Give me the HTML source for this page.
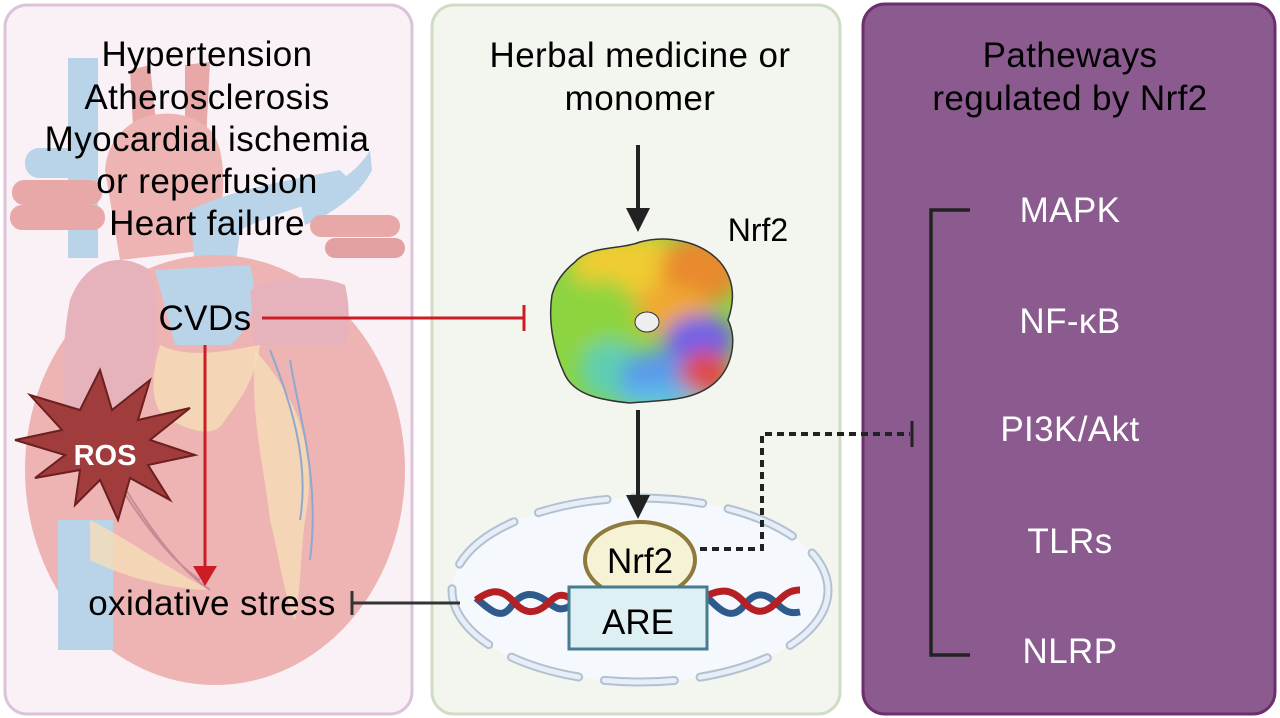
<!DOCTYPE html>
<html><head><meta charset="utf-8"><style>
html,body{margin:0;padding:0;background:#fff;}
svg{display:block;font-family:"Liberation Sans",sans-serif;}
</style></head><body>
<svg width="1280" height="718" viewBox="0 0 1280 718" xmlns="http://www.w3.org/2000/svg">
<defs>
<filter id="bl" x="-20%" y="-20%" width="140%" height="140%"><feGaussianBlur stdDeviation="10"/></filter>
<clipPath id="pc"><path d="M575,262 C590,245 620,250 640,242 C665,235 700,240 720,262 C735,280 735,300 728,320 C738,340 732,370 712,385 C690,402 660,400 630,403 C600,400 575,395 565,375 C553,350 548,320 552,295 C556,280 565,270 575,262 Z"/></clipPath>
</defs>
<!-- panels -->
<rect x="5" y="5" width="407" height="709" rx="22" fill="#f9f1f6" stroke="#dcc3d9" stroke-width="3"/>
<rect x="432" y="5" width="408" height="709" rx="22" fill="#f3f6ee" stroke="#cfdcc6" stroke-width="3"/>
<rect x="863" y="4" width="412" height="710" rx="22" fill="#8b5a8f" stroke="#6b2f6e" stroke-width="3"/>

<!-- heart -->
<g>
<rect x="68" y="58" width="30" height="200" fill="#b9d3e8"/>
<rect x="25" y="148" width="70" height="30" rx="14" fill="#b9d3e8"/>
<rect x="12" y="180" width="90" height="25" rx="12" fill="#e9a8a8"/>
<rect x="10" y="205" width="95" height="25" rx="12" fill="#e9a8a8"/>
<path d="M130,70 L150,65 L160,160 L135,165 Z" fill="#e9a8a8"/>
<path d="M185,65 L210,62 L205,160 L185,160 Z" fill="#e9a8a8"/>
<path d="M105,170 C110,110 180,100 210,130 C230,150 225,220 210,250 L120,260 Z" fill="#eeb3b3"/>
<path d="M300,200 C330,190 360,170 370,150 L372,170 C360,195 330,215 305,225 Z" fill="#b9d3e8"/>
<path d="M190,210 C230,190 290,180 340,170 L360,190 C320,200 270,215 240,230 L235,270 L195,270 Z" fill="#b9d3e8"/>
<rect x="310" y="215" width="90" height="22" rx="11" fill="#e9a8a8"/>
<rect x="325" y="238" width="80" height="20" rx="10" fill="#e2a0a0"/>
<ellipse cx="215" cy="470" rx="190" ry="215" fill="#eeb3b3"/>
<path d="M70,300 C60,350 60,420 75,470 C80,450 110,420 140,400 C160,370 160,300 150,270 C120,250 85,260 70,300 Z" fill="#e6b3bd"/>
<path d="M155,270 L250,265 C260,300 250,330 230,345 L175,345 Z" fill="#b9d3e8"/>
<path d="M250,290 C280,275 320,275 345,285 C350,305 350,330 345,345 L255,345 Z" fill="#e6b3bd"/>
<rect x="58" y="520" width="55" height="130" fill="#b9d3e8"/>
<path d="M160,345 C190,360 230,350 260,345 C255,380 240,400 225,420 C215,440 190,430 170,420 C150,410 150,380 160,345 Z" fill="#f5dfb8" opacity="0.8"/>
<path d="M255,350 C290,390 320,440 305,520 C300,560 300,600 295,620 C285,600 280,560 270,520 C265,470 250,420 255,350 Z" fill="#f5dfb8" opacity="0.8"/>
<path d="M90,520 C130,540 170,570 210,590 C180,590 130,580 90,560 Z" fill="#f5dfb8" opacity="0.8"/>
<path d="M270,350 C290,400 310,460 300,520 M290,360 C300,420 320,480 310,560" stroke="#8fa8cc" stroke-width="2" fill="none"/>
<path d="M110,470 C140,520 170,560 200,580 M120,480 C150,530 180,570 210,590" stroke="#c78b96" stroke-width="2" fill="none"/>
</g>
<!-- ROS star -->
<polygon points="100,370 112,410 150,380 138,420 190,408 150,440 195,455 148,465 170,500 130,478 118,520 100,480 75,505 80,470 35,478 65,455 15,440 62,430 30,395 80,410" fill="#a03c3c" stroke="#6b1f1f" stroke-width="2"/>
<text x="105" y="465" text-anchor="middle" font-size="29" font-weight="bold" fill="#fff">ROS</text>

<!-- left text -->
<g font-size="35" fill="#000" text-anchor="middle" letter-spacing="0.4">
<text x="207" y="66">Hypertension</text>
<text x="207" y="109">Atherosclerosis</text>
<text x="207" y="151">Myocardial ischemia</text>
<text x="207" y="193">or reperfusion</text>
<text x="207" y="235">Heart failure</text>
<text x="205" y="330">CVDs</text>
<text x="212" y="615">oxidative stress</text>
</g>
<!-- red arrows -->
<line x1="262" y1="318" x2="524" y2="318" stroke="#cc1c24" stroke-width="3"/>
<line x1="524" y1="305" x2="524" y2="331" stroke="#cc1c24" stroke-width="3"/>
<line x1="205" y1="345" x2="205" y2="568" stroke="#cc1c24" stroke-width="3"/>
<polygon points="193,566 217,566 205,586" fill="#cc1c24"/>

<!-- middle -->
<g font-size="35" fill="#000" text-anchor="middle" letter-spacing="0.4">
<text x="640" y="67">Herbal medicine or</text>
<text x="640" y="110">monomer</text>
</g>
<line x1="638" y1="145" x2="638" y2="212" stroke="#222" stroke-width="4"/>
<polygon points="626,208 650,208 638,232" fill="#222"/>
<text x="758" y="241" font-size="32" text-anchor="middle">Nrf2</text>
<!-- protein -->
<g clip-path="url(#pc)">
<rect x="540" y="230" width="200" height="180" fill="#8bd444"/>
<g filter="url(#bl)">
<ellipse cx="630" cy="265" rx="60" ry="30" fill="#f0cc30"/>
<ellipse cx="700" cy="270" rx="40" ry="35" fill="#e8892e"/>
<ellipse cx="670" cy="310" rx="40" ry="25" fill="#f0a830"/>
<ellipse cx="600" cy="320" rx="40" ry="40" fill="#8ed43e"/>
<ellipse cx="610" cy="370" rx="30" ry="30" fill="#5ecfb0"/>
<ellipse cx="660" cy="375" rx="40" ry="25" fill="#5a9ae8"/>
<ellipse cx="700" cy="340" rx="35" ry="25" fill="#7060e8"/>
<ellipse cx="705" cy="375" rx="25" ry="25" fill="#e04848"/>
<ellipse cx="660" cy="398" rx="45" ry="12" fill="#5ec0ec"/>
</g>
</g>
<path d="M575,262 C590,245 620,250 640,242 C665,235 700,240 720,262 C735,280 735,300 728,320 C738,340 732,370 712,385 C690,402 660,400 630,403 C600,400 575,395 565,375 C553,350 548,320 552,295 C556,280 565,270 575,262 Z" fill="none" stroke="#333" stroke-width="1.5"/>
<ellipse cx="647" cy="322" rx="12" ry="10" fill="#eee" stroke="#333"/>

<!-- nucleus -->
<ellipse cx="640" cy="590" rx="188" ry="92" fill="#f5f8fd"/>
<ellipse cx="640" cy="590" rx="188" ry="92" fill="none" stroke="#b3c1cf" stroke-width="9" stroke-linecap="round" stroke-dasharray="70 26"/>
<ellipse cx="640" cy="590" rx="188" ry="92" fill="none" stroke="#e6eef9" stroke-width="5" stroke-linecap="round" stroke-dasharray="70 26"/>
<line x1="638" y1="410" x2="638" y2="497" stroke="#222" stroke-width="4"/>
<polygon points="626,495 650,495 638,519" fill="#222"/>
<!-- DNA -->
<g fill="none" stroke-width="7">
<path d="M476,598 C490,610 500,620 510,608 C520,594 530,590 545,600 C555,608 560,612 570,606" stroke="#2e5a8c"/>
<path d="M476,600 C490,590 500,588 512,600 C522,612 532,616 545,606 C555,596 560,592 570,598" stroke="#b52025"/>
<path d="M708,598 C720,610 730,620 742,608 C752,594 762,590 775,602 C785,612 790,614 800,612" stroke="#2e5a8c"/>
<path d="M708,595 C720,590 730,588 742,600 C752,612 762,616 775,604 C785,594 790,590 800,590" stroke="#b52025"/>
</g>
<ellipse cx="640" cy="560" rx="55" ry="38" fill="#f6f2d6" stroke="#8e7a3a" stroke-width="4"/>
<text x="640" y="573" font-size="35" text-anchor="middle">Nrf2</text>
<rect x="569" y="587" width="138" height="62" fill="#dff0f5" stroke="#457c8e" stroke-width="3"/>
<text x="638" y="634" font-size="35" text-anchor="middle">ARE</text>
<line x1="352" y1="603" x2="460" y2="603" stroke="#333" stroke-width="3"/>
<line x1="352" y1="591" x2="352" y2="615" stroke="#333" stroke-width="3"/>

<!-- dotted -->
<path d="M700,549 L762,549 L762,434 L910,434" fill="none" stroke="#222" stroke-width="4" stroke-dasharray="7 5"/>
<line x1="912" y1="421" x2="912" y2="447" stroke="#222" stroke-width="3"/>

<!-- right panel -->
<g font-size="35" fill="#000" text-anchor="middle" letter-spacing="0.4">
<text x="1070" y="67">Patheways</text>
<text x="1070" y="110">regulated by Nrf2</text>
</g>
<path d="M970,210 L931,210 L931,655 L970,655" fill="none" stroke="#222" stroke-width="3.5"/>
<g font-size="35" fill="#fff" text-anchor="middle" letter-spacing="0.4">
<text x="1070" y="222">MAPK</text>
<text x="1070" y="333">NF-κB</text>
<text x="1070" y="441">PI3K/Akt</text>
<text x="1070" y="553">TLRs</text>
<text x="1070" y="663">NLRP</text>
</g>
</svg>
</body></html>
